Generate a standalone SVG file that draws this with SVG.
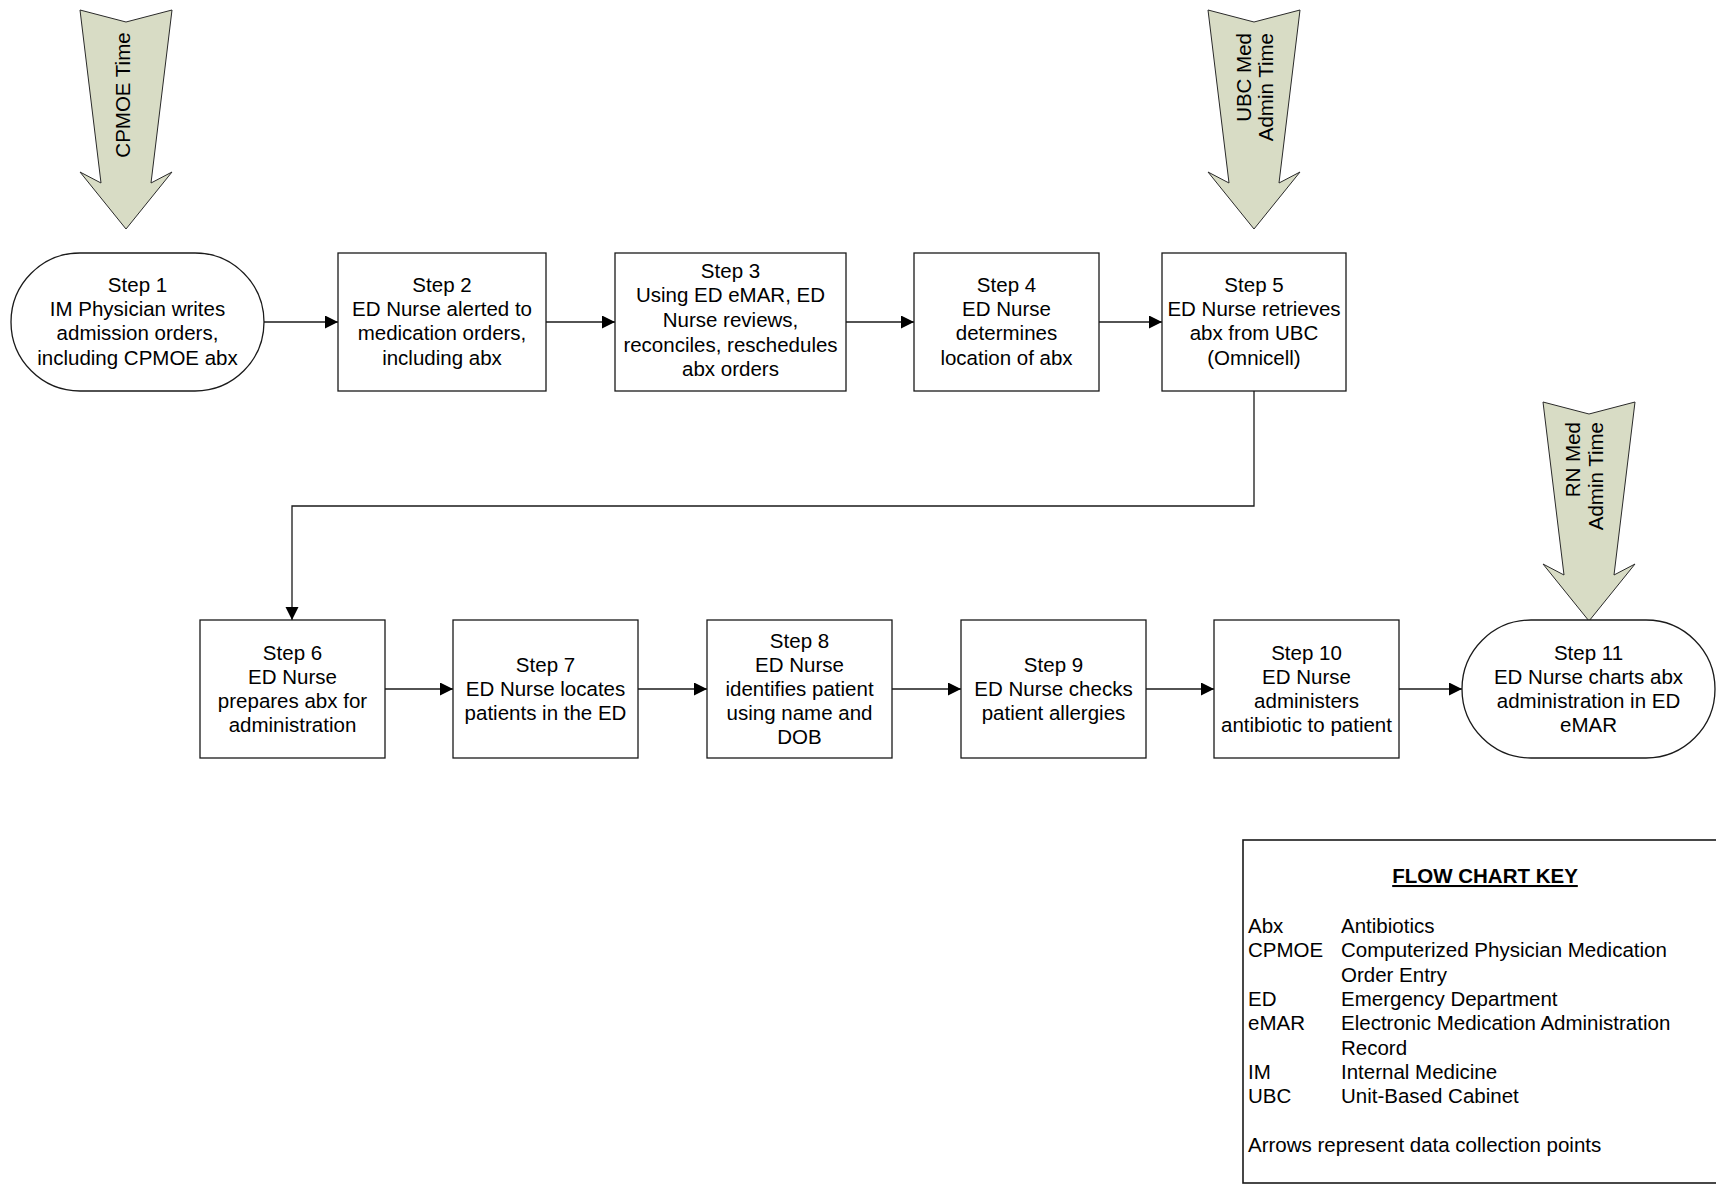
<svg xmlns="http://www.w3.org/2000/svg" width="1716" height="1185" viewBox="0 0 1716 1185">
<style>
.bg{fill:#fff}
.box{fill:#fff;stroke:#1a1a1a;stroke-width:1.3}
.ptr{fill:#d8dcc5;stroke:#2a2a2a;stroke-width:1}
.t{font-family:"Liberation Sans",Arial,sans-serif;font-size:20.5px;fill:#000;text-anchor:middle}
.k{font-family:"Liberation Sans",Arial,sans-serif;font-size:20.5px;fill:#000}
.kt{font-family:"Liberation Sans",Arial,sans-serif;font-size:20.5px;font-weight:bold;text-decoration:underline;fill:#000;text-anchor:middle}
.c{fill:none;stroke:#1a1a1a;stroke-width:1.3}
</style>
<defs>
<marker id="ah" markerWidth="14" markerHeight="14" refX="13" refY="6.5" orient="auto" markerUnits="userSpaceOnUse">
<path d="M0,0 L13,6.5 L0,13 Z" fill="#000"/>
</marker>
</defs>
<rect class="bg" x="0" y="0" width="1716" height="1185"/>

<g id="connectors">
<line class="c" x1="264" y1="322" x2="338" y2="322" marker-end="url(#ah)"/>
<line class="c" x1="546" y1="322" x2="615" y2="322" marker-end="url(#ah)"/>
<line class="c" x1="846" y1="322" x2="914" y2="322" marker-end="url(#ah)"/>
<line class="c" x1="1099" y1="322" x2="1162" y2="322" marker-end="url(#ah)"/>
<polyline class="c" points="1254,391 1254,506 292,506 292,620" marker-end="url(#ah)"/>
<line class="c" x1="385" y1="689" x2="453" y2="689" marker-end="url(#ah)"/>
<line class="c" x1="638" y1="689" x2="707" y2="689" marker-end="url(#ah)"/>
<line class="c" x1="892" y1="689" x2="961" y2="689" marker-end="url(#ah)"/>
<line class="c" x1="1146" y1="689" x2="1214" y2="689" marker-end="url(#ah)"/>
<line class="c" x1="1399" y1="689" x2="1462" y2="689" marker-end="url(#ah)"/>
</g>

<g id="cpmoe-time">
<polygon class="ptr" points="80,10 126,22 172,10 151,183 172,172 126,229 80,172 101,183"/>
<text class="t" transform="translate(130,95) rotate(-90)" x="0" y="0">CPMOE Time</text>
</g>
<g id="ubc-time">
<polygon class="ptr" points="1208,10 1254,22 1300,10 1279,183 1300,172 1254,229 1208,172 1229,183"/>
<text class="t" transform="translate(1250.5,33) rotate(-90)" style="text-anchor:end" x="0" y="0">UBC Med</text>
<text class="t" transform="translate(1273,33) rotate(-90)" style="text-anchor:end" x="0" y="0">Admin Time</text>
</g>
<g id="rn-time">
<polygon class="ptr" points="1543,402 1589,414 1635,402 1614,575 1635,564 1589,621 1543,564 1564,575"/>
<text class="t" transform="translate(1580,422) rotate(-90)" style="text-anchor:end" x="0" y="0">RN Med</text>
<text class="t" transform="translate(1602.5,422) rotate(-90)" style="text-anchor:end" x="0" y="0">Admin Time</text>
</g>

<g id="step1">
<rect class="box" x="11" y="253" width="253" height="138" rx="69" ry="69"/>
<text class="t"><tspan x="137.5" y="292">Step 1</tspan><tspan x="137.5" y="316.2">IM Physician writes</tspan><tspan x="137.5" y="340.4">admission orders,</tspan><tspan x="137.5" y="364.6">including CPMOE abx</tspan></text>
</g>
<g id="step2">
<rect class="box" x="338" y="253" width="208" height="138"/>
<text class="t"><tspan x="442" y="292">Step 2</tspan><tspan x="442" y="316.2">ED Nurse alerted to</tspan><tspan x="442" y="340.4">medication orders,</tspan><tspan x="442" y="364.6">including abx</tspan></text>
</g>
<g id="step3">
<rect class="box" x="615" y="253" width="231" height="138"/>
<text class="t"><tspan x="730.5" y="277.5">Step 3</tspan><tspan x="730.5" y="302.2">Using ED eMAR, ED</tspan><tspan x="730.5" y="326.9">Nurse reviews,</tspan><tspan x="730.5" y="351.6">reconciles, reschedules</tspan><tspan x="730.5" y="376.3">abx orders</tspan></text>
</g>
<g id="step4">
<rect class="box" x="914" y="253" width="185" height="138"/>
<text class="t"><tspan x="1006.5" y="292">Step 4</tspan><tspan x="1006.5" y="316.2">ED Nurse</tspan><tspan x="1006.5" y="340.4">determines</tspan><tspan x="1006.5" y="364.6">location of abx</tspan></text>
</g>
<g id="step5">
<rect class="box" x="1162" y="253" width="184" height="138"/>
<text class="t"><tspan x="1254" y="292">Step 5</tspan><tspan x="1254" y="316.2">ED Nurse retrieves</tspan><tspan x="1254" y="340.4">abx from UBC</tspan><tspan x="1254" y="364.6">(Omnicell)</tspan></text>
</g>

<g id="step6">
<rect class="box" x="200" y="620" width="185" height="138"/>
<text class="t"><tspan x="292.5" y="659.7">Step 6</tspan><tspan x="292.5" y="683.9">ED Nurse</tspan><tspan x="292.5" y="708.1">prepares abx for</tspan><tspan x="292.5" y="732.3">administration</tspan></text>
</g>
<g id="step7">
<rect class="box" x="453" y="620" width="185" height="138"/>
<text class="t"><tspan x="545.5" y="671.8">Step 7</tspan><tspan x="545.5" y="696">ED Nurse locates</tspan><tspan x="545.5" y="720.2">patients in the ED</tspan></text>
</g>
<g id="step8">
<rect class="box" x="707" y="620" width="185" height="138"/>
<text class="t"><tspan x="799.5" y="647.6">Step 8</tspan><tspan x="799.5" y="671.8">ED Nurse</tspan><tspan x="799.5" y="696">identifies patient</tspan><tspan x="799.5" y="720.2">using name and</tspan><tspan x="799.5" y="744.4">DOB</tspan></text>
</g>
<g id="step9">
<rect class="box" x="961" y="620" width="185" height="138"/>
<text class="t"><tspan x="1053.5" y="671.8">Step 9</tspan><tspan x="1053.5" y="696">ED Nurse checks</tspan><tspan x="1053.5" y="720.2">patient allergies</tspan></text>
</g>
<g id="step10">
<rect class="box" x="1214" y="620" width="185" height="138"/>
<text class="t"><tspan x="1306.5" y="659.7">Step 10</tspan><tspan x="1306.5" y="683.9">ED Nurse</tspan><tspan x="1306.5" y="708.1">administers</tspan><tspan x="1306.5" y="732.3">antibiotic to patient</tspan></text>
</g>
<g id="step11">
<rect class="box" x="1462" y="620" width="253" height="138" rx="69" ry="69"/>
<text class="t"><tspan x="1588.5" y="659.7">Step 11</tspan><tspan x="1588.5" y="683.9">ED Nurse charts abx</tspan><tspan x="1588.5" y="708.1">administration in ED</tspan><tspan x="1588.5" y="732.3">eMAR</tspan></text>
</g>

<g id="key">
<rect class="box" x="1243" y="840" width="490" height="343" style="stroke-width:1.6"/>
<text class="kt" x="1485" y="883">FLOW CHART KEY</text>
<text class="k"><tspan x="1248" y="933">Abx</tspan><tspan x="1248" y="957">CPMOE</tspan><tspan x="1248" y="1006">ED</tspan><tspan x="1248" y="1030">eMAR</tspan><tspan x="1248" y="1079">IM</tspan><tspan x="1248" y="1103">UBC</tspan></text>
<text class="k"><tspan x="1341" y="933">Antibiotics</tspan><tspan x="1341" y="957">Computerized Physician Medication</tspan><tspan x="1341" y="981.5">Order Entry</tspan><tspan x="1341" y="1006">Emergency Department</tspan><tspan x="1341" y="1030">Electronic Medication Administration</tspan><tspan x="1341" y="1054.5">Record</tspan><tspan x="1341" y="1079">Internal Medicine</tspan><tspan x="1341" y="1103">Unit-Based Cabinet</tspan></text>
<text class="k" x="1248" y="1152">Arrows represent data collection points</text>
</g>
</svg>
